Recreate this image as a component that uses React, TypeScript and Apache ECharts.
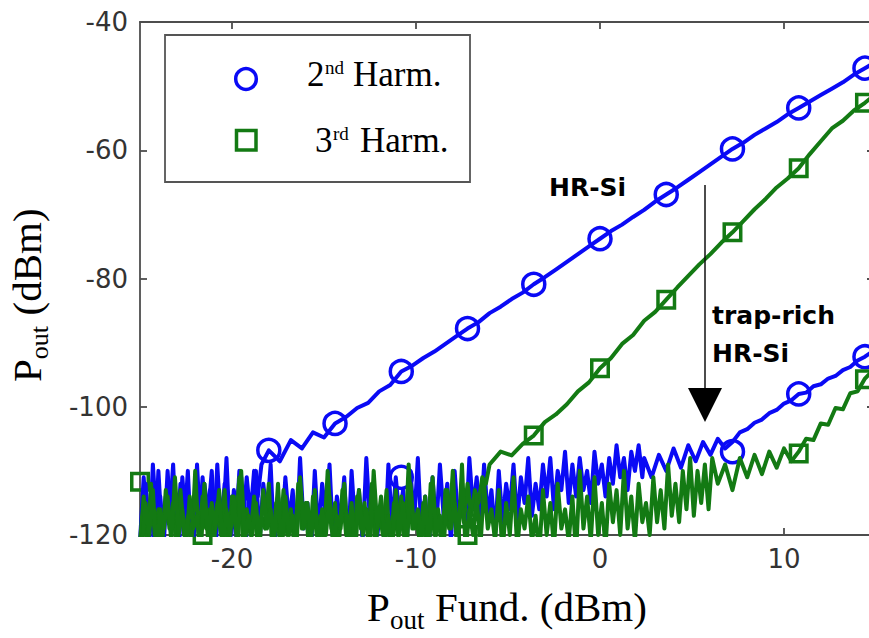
import React, { useEffect, useRef } from "react";
import * as echarts from "echarts";

// ---------- axes ----------
const X_MIN = -25;
const X_MAX = 15;
const X_TICKS = [-20, -10, 0, 10];
const Y_MIN = -120;
const Y_MAX = -40;
const Y_STEP = 20;

// ---------- measurement sweeps (Pout Fund., dBm) ----------
const NOISE_STEP = 0.2;
const HR_NOISE_START = -25;
const TR_NOISE_START = -24.9;

// HR-Si, 2nd harmonic
const hr2NoiseY = [
  -121, -111, -119, -113, -122, -110, -120, -114, -118, -109,
  -121, -112, -119, -110, -122, -115, -120, -111, -118, -113,
  -121, -109, -119, -112, -122, -114, -120, -110, -118, -111,
  -117, -110, -114, -109,
];
const hr2RiseStart = -18;
const hr2RiseStep = 0.6;
const hr2RiseY = [
  -106.8, -108.5, -105.2, -106.5, -104, -104.8, -102.6, -101.6, -100.2, -99.4,
  -97.6, -96.6, -94.5, -93.6, -92.4, -91.4, -90.2, -89, -87.8, -86.8,
  -85.4, -84.4, -83.2, -82.2, -80.9, -79.8, -78.6, -77.4, -76.2, -75,
  -73.8, -72.6, -71.6, -70.4, -69.3, -68, -66.9, -65.8, -64.6, -63.4,
  -62.2, -61, -59.8, -58.8, -57.6, -56.6, -55.6, -54.4, -53.4, -52.4,
  -51.4, -50.4, -49.4, -48.2, -47.2, -46.2,
];
const hr2MarkX = [-18, -14.4, -10.8, -7.2, -3.6, 0, 3.6, 7.2, 10.8, 14.4];
const hr2MarkY = [-106.8, -102.6, -94.5, -87.8, -80.9, -73.8, -66.9, -59.8, -53.4, -47.2];

// HR-Si, 3rd harmonic
const hr3NoiseY = [
  -121, -114, -123, -112, -120, -116, -122, -113, -119, -115,
  -123, -113, -120, -117, -122, -110, -121, -114, -119, -116,
  -122, -115, -120, -113, -123, -114, -119, -111, -121, -116,
  -120, -114, -122, -117, -119, -112, -123, -115, -121, -113,
  -120, -116, -122, -112, -119, -115, -123, -114, -120, -117,
  -121, -110, -119, -115, -122, -113, -120, -117, -123, -114,
  -119, -115, -121, -112, -122, -116, -120, -113, -123, -115,
  -120, -114, -122, -109, -119, -117, -121, -115, -123, -112,
  -120, -116, -122, -113, -119, -110, -121, -115, -118, -112,
  -117, -113, -115, -111, -112,
];
const hr3RiseStart = -6;
const hr3RiseStep = 0.6;
const hr3RiseY = [
  -109, -107, -107.6, -105.8, -104.5, -102.4, -101.2, -99.6, -97.6, -96.2,
  -94, -92.4, -90.2, -88.8, -86.6, -85.2, -83.3, -81.4, -79.6, -77.8,
  -76.2, -74.4, -72.8, -71, -69.2, -67.6, -65.8, -64.4, -62.8, -60.6,
  -58.6, -56.6, -55.4, -53.8, -52.6, -51.2,
];
const hr3MarkX = [-3.6, 0, 3.6, 7.2, 10.8, 14.4];
const hr3MarkY = [-104.5, -94, -83.3, -72.8, -62.8, -52.6];

// trap-rich HR-Si, 2nd harmonic
const tr2NoiseY = [
  -120, -112, -122, -109, -118, -114, -121, -110, -119, -113,
  -123, -111, -118, -115, -121, -109, -120, -112, -117, -110,
  -122, -114, -119, -108, -121, -113, -118, -111, -123, -115,
  -119, -110, -121, -112, -117, -109, -122, -114, -120, -111,
  -118, -113, -121, -108, -119, -115, -122, -110, -120, -112,
  -117, -109, -121, -114, -118, -111, -123, -110, -119, -113,
  -121, -108, -118, -112, -120, -115, -122, -109, -119, -111,
  -117, -113, -121, -110, -118, -108, -120, -114, -122, -111,
  -119, -109, -117, -112, -121, -110, -118, -113, -120, -108,
  -116, -111, -119, -109, -117, -113, -120, -110, -118, -112,
  -116, -109, -118, -111, -115, -108, -117, -112, -116, -109,
  -114, -108, -116, -110, -113, -107, -115, -109, -114, -108,
  -113, -110, -115, -107, -112, -109, -114, -108, -112, -106,
  -111, -108, -113, -107, -110, -106, -111,
];
const tr2RiseStart = 2.4;
const tr2RiseStep = 0.4;
const tr2RiseY = [
  -108, -111, -107.5, -110, -106.5, -109.5, -106, -108.5, -105.5, -107.5,
  -105, -106.5, -105.5, -104, -103.5, -102.5, -102, -101, -100.5, -99.5,
  -99, -98, -97.8, -96.8, -96.5, -95.6, -95.2, -94.3, -93.8, -92.8,
  -92.2, -91.4,
];
const tr2MarkX = [-10.8, 7.2, 10.8, 14.4];
const tr2MarkY = [-111, -107, -98, -92.2];

// trap-rich HR-Si, 3rd harmonic
const tr3NoiseY = [
  -122, -115, -120, -113, -123, -116, -119, -114, -121, -111,
  -120, -116, -122, -114, -119, -117, -123, -112, -121, -115,
  -119, -113, -122, -116, -120, -114, -123, -110, -121, -117,
  -120, -115, -122, -113, -119, -116, -121, -112, -123, -114,
  -120, -117, -122, -111, -119, -115, -121, -113, -123, -116,
  -120, -114, -122, -117, -119, -112, -121, -115, -123, -113,
  -120, -116, -122, -110, -119, -114, -121, -117, -123, -113,
  -120, -115, -122, -112, -119, -116, -121, -114, -123, -111,
  -120, -117, -122, -113, -119, -115, -121, -109, -123, -116,
  -120, -114, -122, -112, -119, -116, -121, -113, -123, -115,
  -120, -111, -122, -116, -119, -114, -121, -117, -123, -113,
  -120, -115, -122, -112, -119, -116, -121, -114, -123, -110,
  -119, -114, -121, -111, -120, -115, -122, -112, -118, -113,
  -120, -110, -119, -114, -121, -112, -118, -115, -120, -111,
  -118, -113, -119, -109, -117, -112, -118, -110, -116, -108,
  -117, -110, -115, -109, -116, -108,
];
const tr3RiseStart = 6.4;
const tr3RiseStep = 0.4;
const tr3RiseY = [
  -112, -109, -113, -108, -111, -107.5, -110.5, -107, -109.5, -106.5,
  -108.5, -107, -105, -105.2, -102.6, -102.8, -100.2, -100.4, -97.9, -97.6,
  -95.6, -94.4,
];
const tr3MarkX = [-25, -21.6, -7.2, 10.8, 14.4];
const tr3MarkY = [-111.7, -120, -120, -107.3, -95.7];

// ---------- styling ----------
const BLUE = "#0a0af5";
const GREEN = "#137a13";
const AXIS = "#4d4d4d";
const SERIF = '"Liberation Serif", "Times New Roman", serif';
const SANS = '"DejaVu Sans", sans-serif';

function sweep(start: number, step: number, ys: number[]): number[][] {
  return ys.map((y, i) => [Math.round((start + i * step) * 100) / 100, y]);
}
function trace(noiseStart: number, noiseY: number[], riseStart: number, riseStep: number, riseY: number[]) {
  return sweep(noiseStart, NOISE_STEP, noiseY).concat(sweep(riseStart, riseStep, riseY));
}
function pairs(xs: number[], ys: number[]) {
  return xs.map((x, i) => [x, ys[i]]);
}

function lineSeries(name: string, data: number[][], color: string) {
  return {
    type: "line",
    name,
    data,
    showSymbol: false,
    symbol: "none",
    lineStyle: { color, width: 4, join: "round", cap: "round", opacity: 1 },
    itemStyle: { color },
    clip: true,
    silent: true,
    emphasis: { disabled: true },
  };
}
function markerSeries(name: string, data: number[][], symbol: string, size: number, color: string) {
  return {
    type: "scatter",
    name,
    data,
    symbol,
    symbolSize: size,
    itemStyle: { color: "rgba(0,0,0,0)", borderColor: color, borderWidth: 3.5, opacity: 1 },
    clip: true,
    silent: true,
    emphasis: { disabled: true },
  };
}

export default function App() {
  const ref = useRef<HTMLDivElement>(null);

  useEffect(() => {
    if (!ref.current) return;
    const chart = echarts.init(ref.current, null, { renderer: "svg" });

    const axisLineStyle = { color: AXIS, width: 1.8 };
    const xBase = {
      type: "value",
      min: X_MIN,
      max: X_MAX,
      splitLine: { show: false },
      axisLine: { show: true, onZero: false, lineStyle: axisLineStyle },
      axisTick: { show: true, inside: true, length: 7, customValues: X_TICKS, lineStyle: axisLineStyle },
    };
    const yBase = {
      type: "value",
      min: Y_MIN,
      max: Y_MAX,
      interval: Y_STEP,
      splitLine: { show: false },
      axisLine: { show: true, onZero: false, lineStyle: axisLineStyle },
      axisTick: { show: true, inside: true, length: 7, lineStyle: axisLineStyle },
    };

    const txt = (text: string, x: number, y: number, font: string, extra: any = {}) => ({
      type: "text",
      x,
      y,
      z: 20,
      silent: true,
      style: { text, font, fill: "#000", textAlign: "left", textVerticalAlign: "middle", ...extra },
    });

    chart.setOption({
      animation: false,
      backgroundColor: "#fff",
      grid: {
        left: 140,
        top: 22,
        width: 736,
        height: 513,
        containLabel: false,
        outerBoundsMode: "none",
      },
      xAxis: [
        {
          ...xBase,
          position: "bottom",
          axisLabel: {
            show: true,
            customValues: X_TICKS,
            margin: 11,
            fontFamily: SANS,
            fontSize: 26,
            color: "#333",
          },
        },
        { ...xBase, position: "top", axisLabel: { show: false } },
      ],
      yAxis: [
        {
          ...yBase,
          position: "left",
          axisLabel: { show: true, margin: 12, fontFamily: SANS, fontSize: 26, color: "#333" },
        },
        { ...yBase, position: "right", axisTick: { ...yBase.axisTick, length: 9 }, axisLabel: { show: false } },
      ],
      series: [
        lineSeries("HR-Si 2nd", trace(HR_NOISE_START, hr2NoiseY, hr2RiseStart, hr2RiseStep, hr2RiseY), BLUE),
        markerSeries("HR-Si 2nd marks", pairs(hr2MarkX, hr2MarkY), "circle", 22, BLUE),
        lineSeries("TR 2nd", trace(TR_NOISE_START, tr2NoiseY, tr2RiseStart, tr2RiseStep, tr2RiseY), BLUE),
        markerSeries("TR 2nd marks", pairs(tr2MarkX, tr2MarkY), "circle", 22, BLUE),
        lineSeries("HR-Si 3rd", trace(HR_NOISE_START, hr3NoiseY, hr3RiseStart, hr3RiseStep, hr3RiseY), GREEN),
        markerSeries("HR-Si 3rd marks", pairs(hr3MarkX, hr3MarkY), "rect", 16.5, GREEN),
        lineSeries("TR 3rd", trace(TR_NOISE_START, tr3NoiseY, tr3RiseStart, tr3RiseStep, tr3RiseY), GREEN),
        markerSeries("TR 3rd marks", pairs(tr3MarkX, tr3MarkY), "rect", 16.5, GREEN),
      ],
      graphic: [
        // legend box
        {
          type: "rect",
          z: 15,
          silent: true,
          shape: { x: 165, y: 35, width: 305, height: 147 },
          style: { fill: "#fff", stroke: "#555", lineWidth: 1.8 },
        },
        {
          type: "circle",
          z: 20,
          silent: true,
          shape: { cx: 246, cy: 79, r: 10.3 },
          style: { fill: "none", stroke: BLUE, lineWidth: 3.5 },
        },
        {
          type: "rect",
          z: 20,
          silent: true,
          shape: { x: 236.5, y: 130.5, width: 19.5, height: 19.5 },
          style: { fill: "none", stroke: GREEN, lineWidth: 3.5 },
        },
        txt("2", 307, 74, `35px ${SERIF}`),
        txt("nd", 325, 67, `19px ${SERIF}`),
        txt("Harm.", 353, 74, `35px ${SERIF}`),
        txt("3", 315, 140, `35px ${SERIF}`),
        txt("rd", 333, 133, `19px ${SERIF}`),
        txt("Harm.", 360, 140, `35px ${SERIF}`),
        // annotations
        txt("HR-Si", 549, 187, `bold 25px ${SANS}`),
        txt("trap-rich", 712, 315, `bold 25px ${SANS}`),
        txt("HR-Si", 712, 353, `bold 25px ${SANS}`),
        {
          type: "line",
          z: 18,
          silent: true,
          shape: { x1: 705, y1: 185, x2: 705, y2: 392 },
          style: { stroke: "#111", lineWidth: 1.5 },
        },
        {
          type: "polygon",
          z: 18,
          silent: true,
          shape: { points: [[688, 388], [722, 388], [705, 422]] },
          style: { fill: "#000" },
        },
        // x axis title
        txt("P", 367, 607, `41px ${SERIF}`),
        txt("out", 390, 620, `27px ${SERIF}`),
        txt("Fund. (dBm)", 435, 607, `41px ${SERIF}`),
        // y axis title
        {
          type: "group",
          x: 27,
          y: 382,
          rotation: Math.PI / 2,
          children: [
            txt("P", 0, 0, `41px ${SERIF}`),
            txt("out", 22.8, 12.5, `26px ${SERIF}`),
            txt("(dBm)", 66.5, 0, `41px ${SERIF}`),
          ],
        },
      ],
    });

    return () => chart.dispose();
  }, []);

  return (
    <div
      ref={ref}
      style={{ position: "absolute", left: 0, top: 0, width: 869, height: 638 }}
    />
  );
}
